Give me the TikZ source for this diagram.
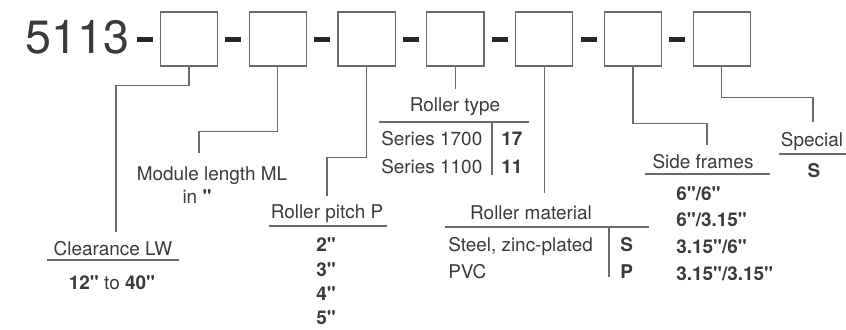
\documentclass[tikz,border=0pt]{standalone}
\usepackage{fontspec}
\setmainfont{TeX Gyre Heros}[Ligatures=TeXOff]
\definecolor{txtgray}{HTML}{3A3A3A}
\definecolor{linegray}{HTML}{6A6A6A}

\begin{document}
\begin{tikzpicture}[x=0.75pt,y=-0.75pt,
  every node/.style={font=\fontsize{14.2}{17}\selectfont,text=txtgray,inner sep=0pt},
  box/.style={draw=linegray,line width=0.9pt,minimum width=43pt,minimum height=40.5pt},
  dashbar/.style={fill=black!85,minimum width=12pt,minimum height=3.3pt},
  lead/.style={draw=linegray,line width=0.8pt},
  rule/.style={draw=linegray,line width=0.8pt},
  val/.style={font=\fontsize{14.2}{17}\selectfont\bfseries}]
  \useasboundingbox (0,0) rectangle (846,329);
  \node[anchor=base west,font=\fontsize{35}{40}\selectfont] (code) at (25,53) {5113};
  \foreach \i in {1,...,7}{
    \node[box] (b\i) at ({189+88.8*(\i-1)},39) {};
    \node[dashbar] (d\i) at ({144.6+88.8*(\i-1)},39.5) {};
  }
  % clearance
  \node[anchor=base] (lw) at (113,255) {Clearance LW};
  \draw[rule] (47,260) -- (179,260);
  \node[anchor=base] (lwv) at (112,289) {\textbf{12"} to \textbf{40"}};
  % module length
  \node[anchor=base] (ml) at (212,180) {Module length ML};
  \node[anchor=base] (mlin) at (197,203) {in \textbf{"}};
  % roller pitch
  \node[anchor=base] (rp) at (327,218) {Roller pitch P};
  \draw[rule] (269,226) -- (387,226);
  \foreach \v/\y in {2/251,3/276,4/300,5/324}
    \node[anchor=base,val] (rp\v) at (326,\y) {\v"};
  % roller type
  \node[anchor=base] (rt) at (455,111.5) {Roller type};
  \draw[rule] (379,122) -- (529,122);
  \draw[rule] (492,122) -- (492,175);
  \node[anchor=base west] (rt17) at (381,145) {Series 1700};
  \node[anchor=base west,val] (rt17v) at (501,145) {17};
  \node[anchor=base west] (rt11) at (381,173) {Series 1100};
  \node[anchor=base west,val] (rt11v) at (501,173) {11};
  % roller material
  \node[anchor=base] (rm) at (531,219) {Roller material};
  \draw[rule] (445,227) -- (649,227);
  \draw[rule] (609,227) -- (609,277);
  \node[anchor=base west] (rms) at (448,251) {Steel, zinc-plated};
  \node[anchor=base west,val] (rmsv) at (620,251) {S};
  \node[anchor=base west] (rmp) at (448,278) {PVC};
  \node[anchor=base west,val] (rmpv) at (620,278) {P};
  % side frames
  \node[anchor=base] (sf) at (703,168) {Side frames};
  \draw[rule] (645,174) -- (770,174);
  \foreach \n/\t/\y in {1/6"\slash6"/200,2/6"\slash3.15"/226,3/3.15"\slash6"/253,4/3.15"\slash3.15"/280}
    \node[anchor=base west,val] (sf\n) at (676,\y) {\t};
  % special
  \node[anchor=base] (sp) at (812,146) {Special};
  \draw[rule] (779,154) -- (846,154);
  \node[anchor=base,val] (spv) at (814,177) {S};
  % leads
  \coordinate (e1) at (116,232);
  \coordinate (e2) at (199,153);
  \coordinate (e3) at (327,196);
  \coordinate (e4) at (455,89);
  \coordinate (e5) at (545,193);
  \coordinate (e6) at (707,145);
  \coordinate (e7) at (813,122);
  \draw[lead] (b1.south) -- ++(0,19) -| (e1);
  \draw[lead] (b2.south) -- ++(0,65) -| (e2);
  \draw[lead] (b3.south) -- ++(0,91) -| (e3);
  \draw[lead] (b4.south) -- (b4.south |- e4);
  \draw[lead] (b5.south) -- (b5.south |- e5);
  \draw[lead] (b6.south) -- ++(0,57) -| (e6);
  \draw[lead] (b7.south) -- ++(0,31) -| (e7);
\end{tikzpicture}
\end{document}
